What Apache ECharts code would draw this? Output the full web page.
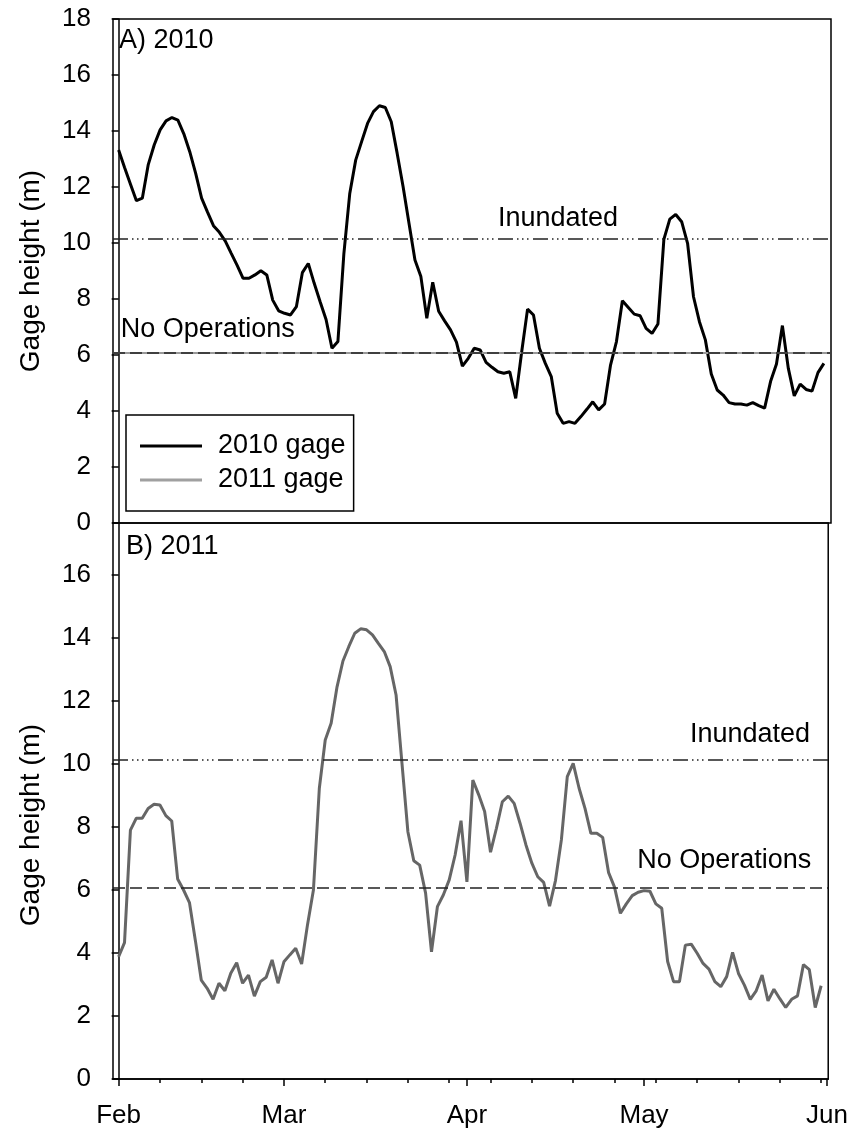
<!DOCTYPE html>
<html>
<head>
<meta charset="utf-8">
<title>Gage height 2010 / 2011</title>
<script src="https://cdn.jsdelivr.net/npm/echarts@6/dist/echarts.min.js"></script>
<style>
  html, body { margin: 0; padding: 0; background: #fff; }
  #chart { width: 851px; height: 1137px; }
</style>
</head>
<body>
<div id="chart"></div>
<script>
  // x = days since Feb 1 (Feb 1 = 0 ... May 31 = 119), one reading a day
  var gage2010 = [
    13.32, 12.7, 12.1, 11.51, 11.6, 12.8, 13.5, 14.04, 14.36, 14.48,
    14.39, 13.9, 13.26, 12.49, 11.6, 11.1, 10.62, 10.38, 10.07, 9.63,
    9.2, 8.74, 8.74, 8.86, 9.01, 8.86, 7.96, 7.58, 7.49, 7.43,
    7.73, 8.94, 9.27, 8.56, 7.9, 7.27, 6.24, 6.48, 9.6, 11.77,
    12.96, 13.62, 14.27, 14.69, 14.9, 14.84, 14.33, 13.2, 12.01, 10.7,
    9.39, 8.8, 7.31, 8.6, 7.56, 7.22, 6.9, 6.46, 5.6, 5.88,
    6.24, 6.18, 5.74, 5.56, 5.4, 5.35, 5.4, 4.45, 6.1, 7.64,
    7.43, 6.24, 5.7, 5.23, 3.92, 3.56, 3.62, 3.56, 3.8, 4.06,
    4.33, 4.04, 4.25, 5.64, 6.48, 7.94, 7.7, 7.46, 7.4, 6.95,
    6.77, 7.11, 10.13, 10.85, 11.02, 10.76, 9.99, 8.08, 7.19, 6.54,
    5.32, 4.75, 4.57, 4.3, 4.25, 4.25, 4.21, 4.3, 4.19, 4.1,
    5.05, 5.68, 7.05, 5.52, 4.54, 4.96, 4.77, 4.71, 5.37, 5.7
  ];
  var gage2011 = [
    3.88, 4.33, 7.9, 8.28, 8.28, 8.59, 8.72, 8.7, 8.36, 8.19,
    6.35, 6.0, 5.6, 4.4, 3.14, 2.88, 2.53, 3.04, 2.8, 3.36,
    3.69, 3.04, 3.3, 2.63, 3.09, 3.23, 3.78, 3.04, 3.72, 3.94,
    4.15, 3.65, 4.9, 6.0, 9.23, 10.76, 11.29, 12.45, 13.27, 13.73,
    14.15, 14.29, 14.26, 14.1, 13.83, 13.57, 13.09, 12.19, 10.02, 7.85,
    6.93, 6.79, 5.9, 4.04, 5.47, 5.84, 6.32, 7.11, 8.2, 6.26,
    9.49, 9.02, 8.49, 7.2, 7.96, 8.8, 8.98, 8.75, 8.12, 7.43,
    6.85, 6.42, 6.24, 5.49, 6.3, 7.59, 9.6, 10.02, 9.23, 8.59,
    7.8, 7.8, 7.67, 6.55, 6.09, 5.26, 5.56, 5.82, 5.93, 5.98,
    5.96, 5.56, 5.42, 3.73, 3.09, 3.09, 4.25, 4.28, 3.99, 3.67,
    3.49, 3.09, 2.93, 3.25, 4.02, 3.35, 2.98, 2.53, 2.8, 3.3,
    2.48, 2.85, 2.55, 2.27, 2.53, 2.64, 3.63, 3.47, 2.27, 2.96
  ];
  var monthLabels = ['Feb', 'Mar', 'Apr', 'May', 'Jun'];
  var monthDays = [0, 28, 59, 89, 120];
  var weekDays = [0, 7, 14, 21, 28, 35, 42, 49, 56, 63, 70, 77, 84, 91, 98, 105, 112, 119];
  var yTicksBottom = [0, 2, 4, 6, 8, 10, 12, 14, 16];
  var inundatedLevel = 10.15;
  var noOpsLevel = 6.08;

  var FONT = 'Liberation Sans, Arial, sans-serif';
  var dashDotDot = [15, 4, 1.5, 3.5, 1.5, 3.5, 1.5, 4.5];

  function pairs(arr) {
    return arr.map(function (v, i) { return [i, v]; });
  }
  function annot(name, x, y) {
    return { name: name, coord: [x, y] };
  }

  var myChart = echarts.init(document.getElementById('chart'));

  var yAxisCommon = {
    type: 'value',
    min: 0,
    splitLine: { show: false },
    axisLine: { show: true, lineStyle: { color: '#000', width: 1.5 } },
    axisTick: { show: true, inside: false, length: 7, lineStyle: { color: '#000', width: 1.5 } },
    axisLabel: { color: '#000', fontSize: 26, fontFamily: FONT, margin: 22 },
    name: 'Gage height (m)',
    nameLocation: 'middle',
    nameGap: 68,
    nameTextStyle: { color: '#000', fontSize: 28, fontFamily: FONT }
  };

  var option = {
    backgroundColor: '#fff',
    animation: false,
    title: [
      { text: 'A) 2010', left: 119, top: 27, padding: 0,
        textStyle: { fontSize: 27, fontWeight: 'normal', color: '#000', fontFamily: FONT } },
      { text: 'B) 2011', left: 126, top: 533, padding: 0,
        textStyle: { fontSize: 27, fontWeight: 'normal', color: '#000', fontFamily: FONT } }
    ],
    legend: {
      left: 126,
      top: 415,
      orient: 'vertical',
      padding: [16, 8, 16, 14],
      borderColor: '#000',
      borderWidth: 1.5,
      icon: 'rect',
      itemWidth: 62,
      itemHeight: 3,
      itemGap: 4,
      selectedMode: false,
      textStyle: { color: '#000', fontSize: 27, fontFamily: FONT, lineHeight: 30, padding: [0, 0, 0, 11] },
      data: [
        { name: '2010 gage', icon: 'rect', itemStyle: { color: '#000', borderWidth: 0 } },
        { name: '2011 gage', icon: 'rect', itemStyle: { color: '#a0a0a0', borderWidth: 0 } }
      ]
    },
    grid: [
      { left: 113, right: 20, top: 19, height: 504, show: true, borderColor: '#000', borderWidth: 1.5, containLabel: false },
      { left: 113, right: 20, top: 523, height: 556, show: true, borderColor: '#000', borderWidth: 1.5, containLabel: false }
    ],
    xAxis: [
      { gridIndex: 0, type: 'value', min: -0.95, max: 120.2, show: false },
      {
        gridIndex: 1, type: 'value', min: -0.95, max: 120.2, position: 'bottom',
        splitLine: { show: false },
        axisLine: { show: true, lineStyle: { color: '#000', width: 1.5 } },
        axisTick: { show: true, length: 7, customValues: monthDays, lineStyle: { color: '#000', width: 1.5 } },
        axisLabel: {
          color: '#000', fontSize: 26, fontFamily: FONT, margin: 24,
          customValues: monthDays,
          formatter: function (v) { return monthLabels[monthDays.indexOf(v)]; }
        }
      },
      {
        gridIndex: 1, type: 'value', min: -0.95, max: 120.2, position: 'bottom',
        splitLine: { show: false },
        axisLine: { show: false },
        axisTick: { show: true, length: 4, customValues: weekDays, lineStyle: { color: '#000', width: 1.5 } },
        axisLabel: { show: false }
      }
    ],
    yAxis: [
      echarts.util.merge({ gridIndex: 0, max: 18, interval: 2 }, yAxisCommon, false),
      echarts.util.merge({
        gridIndex: 1, max: 17.65,
        axisTick: { customValues: yTicksBottom },
        axisLabel: { customValues: yTicksBottom },
        nameTextStyle: { padding: [0, 48, 0, 0] }
      }, yAxisCommon, false)
    ],
    series: [
      {
        name: '2010 gage',
        type: 'line',
        xAxisIndex: 0, yAxisIndex: 0,
        data: pairs(gage2010),
        symbol: 'none',
        lineStyle: { color: '#000', width: 3 },
        itemStyle: { color: '#000' },
        markLine: {
          silent: true, symbol: ['none', 'none'], label: { show: false },
          data: [
            { yAxis: inundatedLevel, lineStyle: { color: '#222', width: 1.5, type: dashDotDot } },
            { yAxis: noOpsLevel, lineStyle: { color: '#999', width: 2, type: 'solid' } },
            { yAxis: noOpsLevel, lineStyle: { color: '#222', width: 1.5, type: [12, 5] } }
          ]
        },
        markPoint: {
          silent: true, symbol: 'circle', symbolSize: 0,
          label: { show: true, position: 'inside', formatter: '{b}', color: '#000', fontSize: 27, fontFamily: FONT },
          data: [annot('Inundated', 74.15, 10.89), annot('No Operations', 15.04, 6.9)]
        }
      },
      {
        name: '2011 gage',
        type: 'line',
        xAxisIndex: 1, yAxisIndex: 1,
        data: pairs(gage2011),
        symbol: 'none',
        lineStyle: { color: '#666', width: 3 },
        itemStyle: { color: '#666' },
        markLine: {
          silent: true, symbol: ['none', 'none'], label: { show: false },
          data: [
            { yAxis: inundatedLevel, lineStyle: { color: '#222', width: 1.5, type: dashDotDot } },
            { yAxis: noOpsLevel, lineStyle: { color: '#222', width: 1.5, type: [12, 5] } }
          ]
        },
        markPoint: {
          silent: true, symbol: 'circle', symbolSize: 0,
          label: { show: true, position: 'inside', formatter: '{b}', color: '#000', fontSize: 27, fontFamily: FONT },
          data: [annot('Inundated', 106.95, 10.94), annot('No Operations', 102.6, 6.94)]
        }
      }
    ]
  };

  myChart.setOption(option);
</script>
</body>
</html>
